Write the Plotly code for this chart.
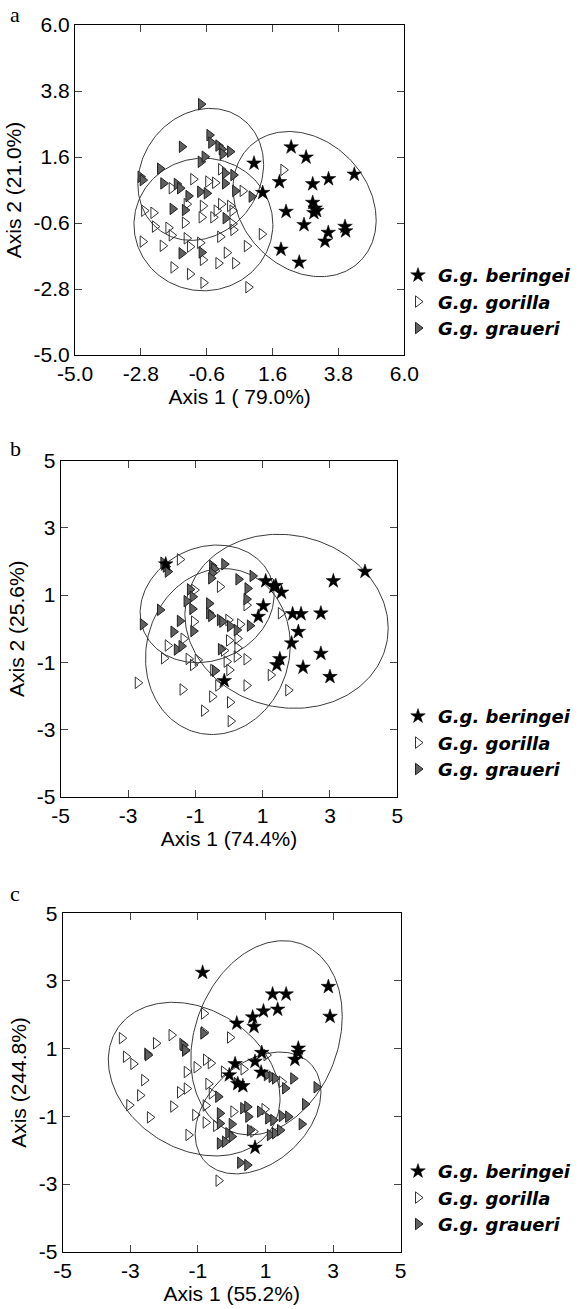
import numpy as np
import plotly.graph_objects as go

# ---------------- Panel a data ----------------
a_beringei_x = [0.98, 1.27, 1.83, 2.22, 2.72, 2.94, 3.47, 4.33, 2.05, 2.94, 3.02, 3.07, 2.98, 2.65, 3.46, 3.35, 4.02, 4.04, 1.88, 2.49]
a_beringei_y = [1.39, 0.41, 0.77, 1.93, 1.59, 0.70, 0.87, 1.02, -0.22, 0.08, -0.11, -0.19, -0.26, -0.66, -0.92, -1.21, -0.72, -0.87, -1.48, -1.91]

a_gorilla_x = [1.96, -0.12, -1.05, -0.55, -0.32, 0.60, -1.77, -1.27, -0.73, -0.12, 0.18, -2.69, -2.38, -0.27, 0.26,
               -1.33, -0.77, -0.38, 0.26, -2.33, -1.88, -1.77, -2.74, -1.27, -1.16, -0.82, -2.07, -0.15, 0.29, 1.24,
               0.74, 0.07, -0.21, 0.35, -0.73, -1.71, -1.16, -0.71, 0.79]
a_gorilla_y = [1.17, 1.19, 0.86, 0.78, 0.74, 0.47, 0.56, 0.03, -0.03, 0.03, -0.03, -0.19, -0.26, -0.19, -0.19,
               -0.59, -0.41, -0.41, -0.63, -0.72, -0.76, -1.01, -1.22, -1.11, -1.39, -1.26, -1.36, -1.06, -0.83, -0.97,
               -1.37, -1.59, -1.94, -1.94, -1.83, -2.08, -2.30, -2.59, -2.74]

a_graueri_x = [-0.79, -0.51, -0.45, -0.21, -0.10, -0.07, 0.18, -1.43, -0.80, -0.67, -2.16, -2.81, -2.74, -2.05, -1.60,
               -1.49, -1.21, -0.82, -0.60, 0.01, 0.29, 0.01, 0.35, 0.90, -1.74, -1.33, 0.03, -1.44, -0.77]
a_graueri_y = [3.36, 2.33, 2.08, 1.98, 1.86, 1.70, 1.78, 1.94, 1.44, 1.61, 1.21, 0.94, 0.83, 0.72, 0.70,
               0.56, 0.30, 0.44, 0.39, 1.06, 1.00, 0.72, 0.47, 0.28, -0.13, -0.17, -0.44, -1.61, -1.58]

# ---------------- Panel b data ----------------
b_beringei_x = [4.04, 3.10, 1.09, 1.39, 1.56, 1.02, 0.87, 1.89, 2.14, 2.73, 2.06, 1.86, 2.73, 1.51, 1.42, 2.20, 3.00, -0.14, -1.88, 1.33]
b_beringei_y = [1.70, 1.42, 1.42, 1.28, 1.08, 0.68, 0.36, 0.44, 0.44, 0.46, -0.09, -0.43, -0.74, -0.90, -1.08, -1.15, -1.43, -1.55, 1.92, 1.25]

b_gorilla_x = [-1.46, -1.03, -0.27, 0.52, 1.54, -1.04, -0.02, 0.33, 0.25, 0.25, 0.23, -1.82, -1.93, -1.20, -1.07, -0.93,
               0.52, -0.07, 0.01, -0.47, 1.24, -0.32, 0.52, 1.76, -2.71, -1.38, -0.50, 0.03, -0.74, 0.05, -0.42, -1.35, 0.00, -0.15]
b_gorilla_y = [2.06, 1.15, 1.25, 0.70, 0.46, 0.21, 0.26, 0.13, -0.29, -0.57, -0.83, -0.50, -0.88, -0.90, -1.08, -0.93,
               -0.91, -0.98, -1.23, -1.23, -1.38, -1.69, -1.69, -1.83, -1.61, -1.81, -2.02, -2.19, -2.44, -2.75, 1.72, -0.30, -0.35, -0.65]

b_graueri_x = [-1.95, -1.88, -1.82, -0.50, -0.44, -0.50, -0.53, -0.14, 0.28, 0.70, 0.55, 0.52, -1.16, -1.08, -1.26, -1.09,
               -0.59, -0.59, -0.53, -2.05, -2.56, -1.46, -1.65, -1.06, -0.27, -0.20, 0.03, 0.23, 0.62, -1.55, -1.41, -0.24, -0.42]
b_graueri_y = [1.96, 1.85, 1.70, 1.87, 1.78, 1.65, 1.50, 1.92, 1.47, 1.57, 1.20, 0.88, 1.17, 0.95, 0.82, 0.59,
               0.75, 0.46, 0.38, 0.56, 0.13, 0.23, -0.09, -0.07, 0.26, 0.21, 0.08, -0.04, 0.09, -0.62, -0.52, -0.61, -1.25]

# ---------------- Panel c data ----------------
c_beringei_x = [-0.86, 2.86, 2.91, 1.21, 1.61, 0.94, 1.36, 0.62, 0.66, 0.15, 1.97, 1.97, 1.87, 0.89, 0.69, 0.10, -0.07, 0.87, 0.18, 0.33, 0.69]
c_beringei_y = [3.25, 2.83, 1.95, 2.61, 2.61, 2.11, 2.16, 1.93, 1.65, 1.75, 1.01, 0.88, 0.68, 0.88, 0.62, 0.55, 0.22, 0.30, -0.04, -0.10, -1.92]

c_gorilla_x = [-3.25, -3.13, -2.91, -2.59, -2.71, -3.03, -2.42, -2.24, -1.78, -1.46, -1.38, -1.33, -1.04, -1.53, -1.33, -1.73,
               -1.08, -1.28, -0.82, -0.82, -0.05, -0.76, -0.62, -0.69, -0.59, -0.77, -0.77, -0.46, -0.23, 0.05, 0.97, 0.64,
               -0.39, 0.35, 1.48, 1.03, -2.50]
c_gorilla_y = [1.31, 0.76, 0.55, 0.07, -0.38, -0.67, -1.03, 1.16, 1.40, 1.14, 0.94, 0.31, 0.45, -0.29, -0.18, -0.71,
               -0.96, -1.55, 2.04, 1.48, 1.33, 0.67, 0.57, -0.04, -0.32, -0.68, -1.18, -1.28, 0.32, -0.86, -0.79, -1.45,
               -2.90, 0.39, 0.02, 0.81, 0.85]

c_graueri_x = [-1.43, -1.38, -2.48, 0.15, 0.30, 1.04, 1.18, 1.28, 1.82, 1.58, 2.51, 2.17, -0.40, -0.35, 0.34, 0.46, 0.49, 0.84,
               1.08, 1.23, 1.48, 1.67, 2.07, 0.00, -0.35, -0.10, 0.00, 0.54, -0.35, -0.20, 1.13, 1.28, 1.43, 0.25, 0.46, -0.84]
c_graueri_y = [1.10, 0.96, 0.81, -0.02, -0.10, 0.22, 0.17, 0.12, 0.12, -0.17, -0.14, -0.64, -0.42, -0.91, -0.76, -0.72, -1.01, -0.86,
               -1.06, -1.11, -0.99, -1.01, -1.23, -1.23, -1.21, -1.50, -1.60, -1.41, -1.80, -1.75, -1.55, -1.50, -1.41, -2.37, -2.44, 1.45]

# Ellipse parameters: centre x, centre y, half-width, half-height, x/y coupling
# order: beringei, gorilla, graueri
a_ell_cx = [2.67, -0.71, -0.80]
a_ell_cy = [0.03, -0.65, 1.02]
a_ell_hx = [2.39, 2.32, 2.10]
a_ell_hy = [2.42, 2.21, 2.20]
a_ell_rho = [-0.22, 0.0, 0.15]

b_ell_cx = [1.71, -0.33, -0.65]
b_ell_cy = [0.22, -0.68, 0.74]
b_ell_hx = [3.02, 2.15, 1.99]
b_ell_hy = [2.59, 2.47, 1.75]
b_ell_rho = [-0.08, 0.08, 0.15]

c_ell_cx = [1.03, -1.11, 0.78]
c_ell_cy = [1.32, 0.10, -0.90]
c_ell_hx = [2.24, 2.54, 1.86]
c_ell_hy = [2.87, 2.27, 1.80]
c_ell_rho = [0.22, -0.25, 0.35]

# Tick labels
a_ticks = [-5.0, -2.8, -0.6, 1.6, 3.8, 6.0]
a_ticktext = ["-5.0", "-2.8", "-0.6", "1.6", "3.8", "6.0"]
bc_ticks = [-5, -3, -1, 1, 3, 5]
bc_ticktext = ["-5", "-3", "-1", "1", "3", "5"]

series_names = ["<b><i>G.g. beringei</i></b>", "<b><i>G.g. gorilla</i></b>", "<b><i>G.g. graueri</i></b>"]

W, H = 583, 1309
FONT = "Liberation Sans, Arial, sans-serif"
LEGEND_FONT = "DejaVu Sans, Liberation Sans, Arial, sans-serif"

# pixel boxes of the plot areas (left, right, top, bottom)
boxes = [(75, 404.3, 25, 355), (60.7, 397.3, 460.7, 796.7), (62.7, 400.7, 913.3, 1251.7)]


def ellipse(cx, cy, hx, hy, rho, n=240):
    t = np.linspace(0, 2 * np.pi, n)
    d = np.arccos(rho)
    return cx + hx * np.cos(t), cy + hy * np.cos(t - d)


fig = go.Figure()

panels = [
    (a_beringei_x, a_beringei_y, a_gorilla_x, a_gorilla_y, a_graueri_x, a_graueri_y,
     a_ell_cx, a_ell_cy, a_ell_hx, a_ell_hy, a_ell_rho),
    (b_beringei_x, b_beringei_y, b_gorilla_x, b_gorilla_y, b_graueri_x, b_graueri_y,
     b_ell_cx, b_ell_cy, b_ell_hx, b_ell_hy, b_ell_rho),
    (c_beringei_x, c_beringei_y, c_gorilla_x, c_gorilla_y, c_graueri_x, c_graueri_y,
     c_ell_cx, c_ell_cy, c_ell_hx, c_ell_hy, c_ell_rho),
]

legend_ids = ["legend", "legend2", "legend3"]

for i, p in enumerate(panels):
    xa = "x" if i == 0 else f"x{i+1}"
    ya = "y" if i == 0 else f"y{i+1}"
    bx, by, gx, gy, rx, ry, ecx, ecy, ehx, ehy, erho = p
    # ellipses
    for k in range(3):
        ex, ey = ellipse(ecx[k], ecy[k], ehx[k], ehy[k], erho[k])
        fig.add_trace(go.Scatter(x=ex, y=ey, mode="lines", xaxis=xa, yaxis=ya,
                                 line=dict(color="#3a3a3a", width=1), showlegend=False,
                                 hoverinfo="skip"))
    fig.add_trace(go.Scatter(x=gx, y=gy, mode="markers", xaxis=xa, yaxis=ya, name=series_names[1],
                             legend=legend_ids[i], legendrank=2,
                             marker=dict(symbol="triangle-right", size=10, color="rgba(255,255,255,0)",
                                         line=dict(color="#333333", width=1))))
    fig.add_trace(go.Scatter(x=rx, y=ry, mode="markers", xaxis=xa, yaxis=ya, name=series_names[2],
                             legend=legend_ids[i], legendrank=3,
                             marker=dict(symbol="triangle-right", size=10, color="#606060",
                                         line=dict(color="#222222", width=1))))
    fig.add_trace(go.Scatter(x=bx, y=by, mode="markers", xaxis=xa, yaxis=ya, name=series_names[0],
                             legend=legend_ids[i], legendrank=1,
                             marker=dict(symbol="star", size=11, color="black",
                                         line=dict(color="black", width=0.5))))

axis_common = dict(showline=True, linecolor="black", linewidth=1, mirror="ticks", ticks="inside",
                   ticklen=7, tickcolor="#444444", showgrid=False, zeroline=False, automargin=False,
                   tickfont=dict(family=FONT, size=21, color="black"))

x_titles = ["Axis 1 ( 79.0%)", "Axis 1 (74.4%)", "Axis 1 (55.2%)"]
y_titles = ["Axis 2 (21.0%)", "Axis 2 (25.6%)", "Axis (244.8%)"]

layout = dict(width=W, height=H, autosize=False, margin=dict(l=0, r=0, t=0, b=0, autoexpand=False),
              paper_bgcolor="white", plot_bgcolor="white", showlegend=True)

for i, (l, r, t, b) in enumerate(boxes):
    xk = "xaxis" if i == 0 else f"xaxis{i+1}"
    yk = "yaxis" if i == 0 else f"yaxis{i+1}"
    ya = "y" if i == 0 else f"y{i+1}"
    xa = "x" if i == 0 else f"x{i+1}"
    if i == 0:
        rng = [-5, 6]
        tv, tt = a_ticks, a_ticktext
    else:
        rng = [-5, 5]
        tv, tt = bc_ticks, bc_ticktext
    layout[xk] = dict(axis_common, domain=[l / W, r / W], range=rng, tickvals=tv, ticktext=tt, anchor=ya,
                      title=dict(text=x_titles[i], font=dict(family=FONT, size=21, color="black"), standoff=0))
    layout[yk] = dict(axis_common, domain=[1 - b / H, 1 - t / H], range=rng, tickvals=tv, ticktext=tt, anchor=xa,
                      title=dict(text=y_titles[i], font=dict(family=FONT, size=21, color="black"), standoff=6))

legend_tops = [257, 698, 1153]
for i, lid in enumerate(legend_ids):
    layout[lid] = dict(x=398 / W, xanchor="left", y=1 - legend_tops[i] / H, yanchor="top",
                       bgcolor="rgba(0,0,0,0)", font=dict(family=LEGEND_FONT, size=18, color="black"),
                       tracegroupgap=0, itemsizing="trace")

fig.update_layout(**layout)

letters = [("a", 14), ("b", 448), ("c", 893)]
for txt, py in letters:
    fig.add_annotation(text=txt, x=8 / W, y=1 - py / H, xref="paper", yref="paper", xanchor="left",
                       yanchor="middle", showarrow=False,
                       font=dict(family="Liberation Serif, Times New Roman, serif", size=22, color="black"))

fig.write_html("out.html", config={"displayModeBar": False},
               post_script="document.body.style.margin='0';")
